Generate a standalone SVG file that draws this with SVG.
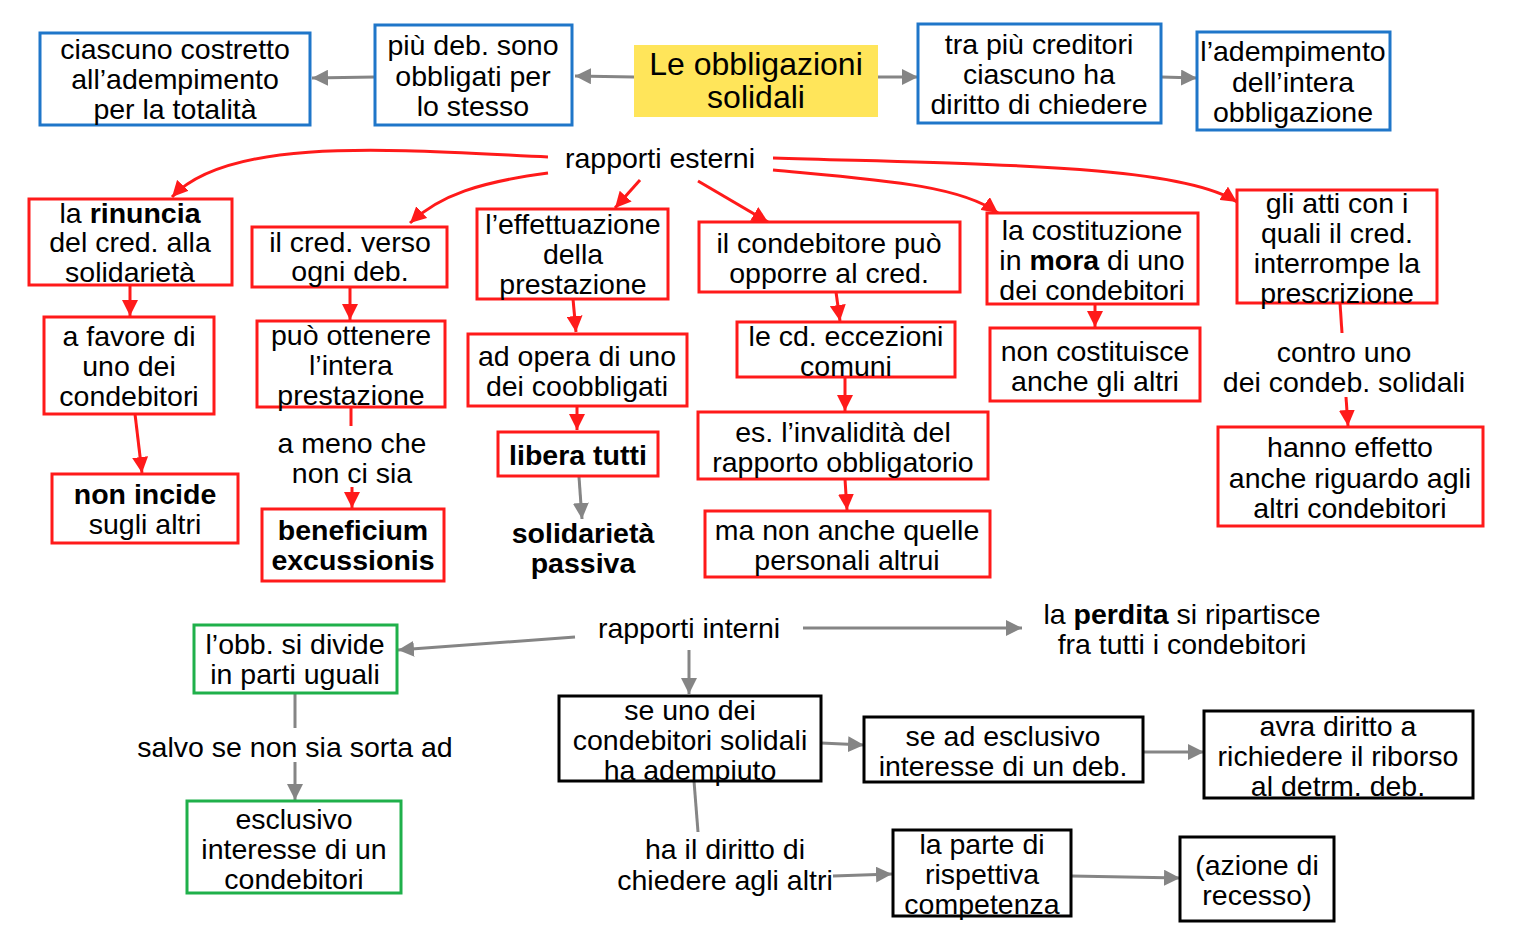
<svg xmlns="http://www.w3.org/2000/svg" width="1519" height="952" viewBox="0 0 1519 952">
<style>
.t{font-family:"Liberation Sans",Arial,sans-serif;font-size:28.5px;text-anchor:middle;fill:#000}
.ttl{font-size:32px}
.b{font-weight:bold}
.blue{fill:#fff;stroke:#1f76c9;stroke-width:3}
.red{fill:#fff;stroke:#ff1a1a;stroke-width:3}
.green{fill:#fff;stroke:#1fb04a;stroke-width:3}
.blk{fill:#fff;stroke:#000;stroke-width:3}
.yel{fill:#ffe55a}
.rc{fill:none;stroke:#ff1a1a;stroke-width:3}
.gc{fill:none;stroke:#858585;stroke-width:3}
.ra{marker-end:url(#ar)}
.ga{marker-end:url(#ag)}
</style>
<defs>
<marker id="ar" viewBox="0 0 10 10" refX="10" refY="5" markerWidth="16" markerHeight="16" markerUnits="userSpaceOnUse" orient="auto"><path d="M0,0 L10,5 L0,10 z" fill="#ff1a1a"/></marker>
<marker id="ag" viewBox="0 0 10 10" refX="10" refY="5" markerWidth="16" markerHeight="16" markerUnits="userSpaceOnUse" orient="auto"><path d="M0,0 L10,5 L0,10 z" fill="#858585"/></marker>
</defs>
<rect width="1519" height="952" fill="#fff"/>

<g id="connectors">
<path class="gc ga" d="M634,77 L575,76"/>
<path class="gc ga" d="M375,77 L312,78"/>
<path class="gc ga" d="M878,77 L918,77"/>
<path class="gc ga" d="M1161,77 L1197,78"/>
<path class="rc ra" d="M548,157 C400,150 230,135 172,197"/>
<path class="rc ra" d="M548,173 C480,182 440,195 410,223"/>
<path class="rc ra" d="M640,180 L615,208"/>
<path class="rc ra" d="M698,181 L768,222"/>
<path class="rc ra" d="M773,170 C880,180 960,185 998,213"/>
<path class="rc ra" d="M773,158 C1000,165 1180,165 1237,202"/>
<path class="rc ra" d="M130,285 L130,316"/>
<path class="rc ra" d="M135,414 L142,473"/>
<path class="rc ra" d="M350,287 L350,320"/>
<path class="rc" d="M351,407 L351,426"/>
<path class="rc ra" d="M352,487 L352,508"/>
<path class="rc ra" d="M573,299 L576,332"/>
<path class="rc ra" d="M577,406 L577,430"/>
<path class="gc ga" d="M579,477 L582,519"/>
<path class="rc ra" d="M836,292 L840,321"/>
<path class="rc ra" d="M845,377 L845,411"/>
<path class="rc ra" d="M845,479 L847,510"/>
<path class="rc ra" d="M1095,304 L1095,327"/>
<path class="rc" d="M1340,303 L1342,333"/>
<path class="rc ra" d="M1346,397 L1348,426"/>
<path class="gc ga" d="M575,637 L398,650"/>
<path class="gc ga" d="M803,628 L1022,628"/>
<path class="gc ga" d="M689,650 L689,694"/>
<path class="gc" d="M295,693 L295,728"/>
<path class="gc ga" d="M295,762 L295,800"/>
<path class="gc" d="M694,781 L698,832"/>
<path class="gc ga" d="M833,876 L892,874"/>
<path class="gc ga" d="M1071,876 L1180,878"/>
<path class="gc ga" d="M821,743 L864,745"/>
<path class="gc ga" d="M1143,752 L1204,752"/>
</g>

<g id="n-ciascuno"><rect class="blue" x="40" y="33" width="270" height="92"/>
<text class="t" x="175" y="59">ciascuno costretto</text><text class="t" x="175" y="89">all’adempimento</text><text class="t" x="175" y="119">per la totalità</text></g>
<g id="n-piudeb"><rect class="blue" x="375" y="25" width="197" height="100"/>
<text class="t" x="473" y="55">più deb. sono</text><text class="t" x="473" y="86">obbligati per</text><text class="t" x="473" y="116">lo stesso</text></g>
<g id="n-title"><rect class="yel" x="634" y="45" width="244" height="72"/>
<text class="t ttl" x="756" y="75">Le obbligazioni</text><text class="t ttl" x="756" y="108">solidali</text></g>
<g id="n-tra"><rect class="blue" x="918" y="24" width="243" height="99"/>
<text class="t" x="1039" y="54">tra più creditori</text><text class="t" x="1039" y="84">ciascuno ha</text><text class="t" x="1039" y="114">diritto di chiedere</text></g>
<g id="n-ladem"><rect class="blue" x="1197" y="32" width="193" height="98"/>
<text class="t" x="1293" y="61">l’adempimento</text><text class="t" x="1293" y="92">dell’intera</text><text class="t" x="1293" y="122">obbligazione</text></g>

<g id="n-esterni"><text class="t" x="660" y="168">rapporti esterni</text></g>

<g id="n-rinuncia"><rect class="red" x="29" y="199" width="203" height="86"/>
<text class="t" x="130" y="223">la <tspan class="b">rinuncia</tspan></text><text class="t" x="130" y="252">del cred. alla</text><text class="t" x="130" y="282">solidarietà</text></g>
<g id="n-favore"><rect class="red" x="44" y="317" width="170" height="97"/>
<text class="t" x="129" y="346">a favore di</text><text class="t" x="129" y="376">uno dei</text><text class="t" x="129" y="406">condebitori</text></g>
<g id="n-nonincide"><rect class="red" x="52" y="474" width="186" height="69"/>
<text class="t b" x="145" y="504">non incide</text><text class="t" x="145" y="534">sugli altri</text></g>

<g id="n-credverso"><rect class="red" x="252" y="227" width="195" height="60"/>
<text class="t" x="350" y="252">il cred. verso</text><text class="t" x="350" y="281">ogni deb.</text></g>
<g id="n-ottenere"><rect class="red" x="257" y="321" width="188" height="86"/>
<text class="t" x="351" y="345">può ottenere</text><text class="t" x="351" y="375">l’intera</text><text class="t" x="351" y="405">prestazione</text></g>
<g id="n-amenoche"><text class="t" x="352" y="453">a meno che</text><text class="t" x="352" y="483">non ci sia</text></g>
<g id="n-beneficium"><rect class="red" x="262" y="509" width="182" height="72"/>
<text class="t b" x="353" y="540">beneficium</text><text class="t b" x="353" y="570">excussionis</text></g>

<g id="n-effettuazione"><rect class="red" x="477" y="209" width="191" height="90"/>
<text class="t" x="573" y="234">l’effettuazione</text><text class="t" x="573" y="264">della</text><text class="t" x="573" y="294">prestazione</text></g>
<g id="n-adopera"><rect class="red" x="468" y="334" width="219" height="72"/>
<text class="t" x="577" y="366">ad opera di uno</text><text class="t" x="577" y="396">dei coobbligati</text></g>
<g id="n-libera"><rect class="red" x="498" y="432" width="160" height="44"/>
<text class="t b" x="578" y="465">libera tutti</text></g>
<g id="n-passiva"><text class="t b" x="583" y="543">solidarietà</text><text class="t b" x="583" y="573">passiva</text></g>

<g id="n-condebitore"><rect class="red" x="699" y="222" width="261" height="70"/>
<text class="t" x="829" y="253">il condebitore può</text><text class="t" x="829" y="283">opporre al cred.</text></g>
<g id="n-eccezioni"><rect class="red" x="737" y="322" width="218" height="55"/>
<text class="t" x="846" y="346">le cd. eccezioni</text><text class="t" x="846" y="376">comuni</text></g>
<g id="n-invalidita"><rect class="red" x="698" y="412" width="290" height="67"/>
<text class="t" x="843" y="442">es. l’invalidità del</text><text class="t" x="843" y="472">rapporto obbligatorio</text></g>
<g id="n-manon"><rect class="red" x="705" y="511" width="285" height="66"/>
<text class="t" x="847" y="540">ma non anche quelle</text><text class="t" x="847" y="570">personali altrui</text></g>

<g id="n-costituzione"><rect class="red" x="987" y="213" width="211" height="91"/>
<text class="t" x="1092" y="240">la costituzione</text><text class="t" x="1092" y="270">in <tspan class="b">mora</tspan> di uno</text><text class="t" x="1092" y="300">dei condebitori</text></g>
<g id="n-noncostituisce"><rect class="red" x="990" y="328" width="210" height="73"/>
<text class="t" x="1095" y="361">non costituisce</text><text class="t" x="1095" y="391">anche gli altri</text></g>

<g id="n-atti"><rect class="red" x="1237" y="190" width="200" height="113"/>
<text class="t" x="1337" y="213">gli atti con i</text><text class="t" x="1337" y="243">quali il cred.</text><text class="t" x="1337" y="273">interrompe la</text><text class="t" x="1337" y="303">prescrizione</text></g>
<g id="n-controuno"><text class="t" x="1344" y="362">contro uno</text><text class="t" x="1344" y="392">dei condeb. solidali</text></g>
<g id="n-hanno"><rect class="red" x="1218" y="427" width="265" height="99"/>
<text class="t" x="1350" y="457">hanno effetto</text><text class="t" x="1350" y="488">anche riguardo agli</text><text class="t" x="1350" y="518">altri condebitori</text></g>

<g id="n-interni"><text class="t" x="689" y="638">rapporti interni</text></g>
<g id="n-perdita"><text class="t" x="1182" y="624">la <tspan class="b">perdita</tspan> si ripartisce</text><text class="t" x="1182" y="654">fra tutti i condebitori</text></g>
<g id="n-divide"><rect class="green" x="194" y="625" width="203" height="68"/>
<text class="t" x="295" y="654">l’obb. si divide</text><text class="t" x="295" y="684">in parti uguali</text></g>
<g id="n-salvo"><text class="t" x="295" y="757">salvo se non sia sorta ad</text></g>
<g id="n-esclusivo"><rect class="green" x="187" y="801" width="214" height="92"/>
<text class="t" x="294" y="829">esclusivo</text><text class="t" x="294" y="859">interesse di un</text><text class="t" x="294" y="889">condebitori</text></g>
<g id="n-seuno"><rect class="blk" x="559" y="696" width="262" height="85"/>
<text class="t" x="690" y="720">se uno dei</text><text class="t" x="690" y="750">condebitori solidali</text><text class="t" x="690" y="780">ha adempiuto</text></g>
<g id="n-hadiritto"><text class="t" x="725" y="859">ha il diritto di</text><text class="t" x="725" y="890">chiedere agli altri</text></g>
<g id="n-parte"><rect class="blk" x="893" y="830" width="178" height="86"/>
<text class="t" x="982" y="854">la parte di</text><text class="t" x="982" y="884">rispettiva</text><text class="t" x="982" y="914">competenza</text></g>
<g id="n-azione"><rect class="blk" x="1180" y="837" width="154" height="84"/>
<text class="t" x="1257" y="875">(azione di</text><text class="t" x="1257" y="905">recesso)</text></g>
<g id="n-seesclusivo"><rect class="blk" x="864" y="717" width="279" height="65"/>
<text class="t" x="1003" y="746">se ad esclusivo</text><text class="t" x="1003" y="776">interesse di un deb.</text></g>
<g id="n-avra"><rect class="blk" x="1204" y="711" width="269" height="87"/>
<text class="t" x="1338" y="736">avra diritto a</text><text class="t" x="1338" y="766">richiedere il riborso</text><text class="t" x="1338" y="796">al detrm. deb.</text></g>
</svg>
